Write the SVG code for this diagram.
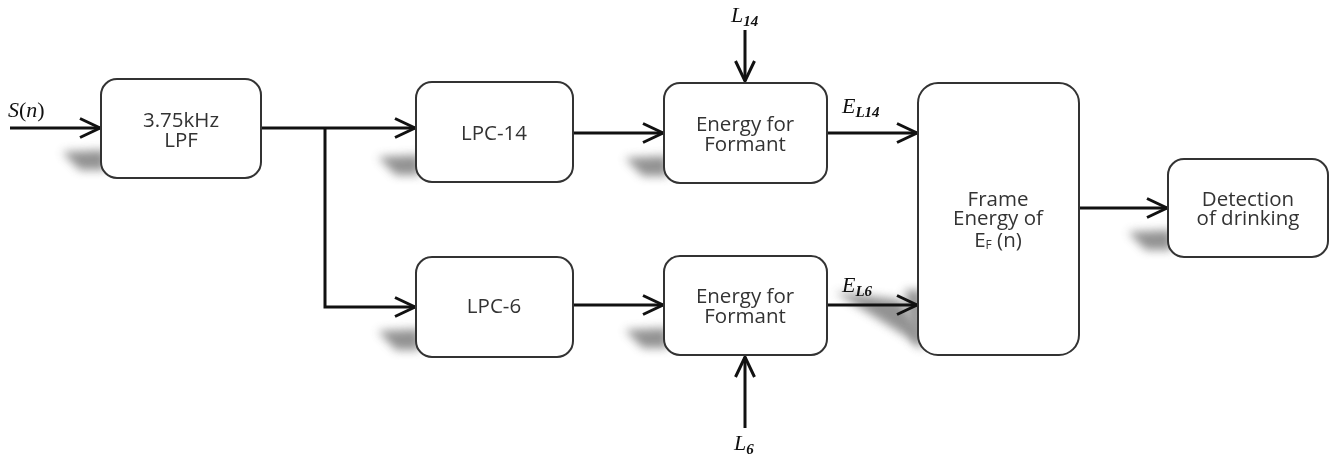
<svg xmlns="http://www.w3.org/2000/svg" width="1333" height="459" viewBox="0 0 1333 459">
<defs>
<style>
.box{fill:#fff;stroke:#333;stroke-width:2}
.lbl{font-family:"Open Sans","Noto Sans",sans-serif;font-size:20.5px;fill:#333;text-anchor:middle}
.math{font-family:"Liberation Serif","DejaVu Serif",serif;font-style:italic;font-size:22px;fill:#111}
.sub{font-size:15px;font-weight:bold}
.wire{fill:none;stroke:#111;stroke-width:3}
.shadow{fill:#777;filter:url(#blur)}
</style>
<filter id="blur" x="-50%" y="-50%" width="200%" height="200%"><feGaussianBlur stdDeviation="5"/></filter>
<marker id="arr" markerUnits="userSpaceOnUse" markerWidth="28" markerHeight="24" refX="22" refY="11" orient="auto">
<path d="M2,1.5 L22,11 L2,20.5" fill="none" stroke="#111" stroke-width="3"/>
</marker>
</defs>
<g id="shadows" opacity="0.8">
<polygon class="shadow" points="62,152 106,150 106,170 80,170"/>
<polygon class="shadow" points="378,157 420,155 420,175 396,175"/>
<polygon class="shadow" points="378,331 420,329 420,350 396,350"/>
<polygon class="shadow" points="625,158 668,156 668,176 643,176"/>
<polygon class="shadow" points="625,330 668,328 668,348 643,348"/>
<polygon class="shadow" points="835,292 900,300 920,330 920,345 880,320"/>
<polygon class="shadow" points="905,290 922,290 922,350 912,340"/>
<polygon class="shadow" points="1128,232 1172,230 1172,250 1146,250"/>
</g>
<g id="connectors">
<line class="wire" x1="10" y1="128" x2="100" y2="128" marker-end="url(#arr)"/>
<line class="wire" x1="261" y1="128" x2="415" y2="128" marker-end="url(#arr)"/>
<polyline class="wire" points="325,128 325,307 415,307" marker-end="url(#arr)"/>
<line class="wire" x1="573" y1="133" x2="663" y2="133" marker-end="url(#arr)"/>
<line class="wire" x1="573" y1="305" x2="663" y2="305" marker-end="url(#arr)"/>
<line class="wire" x1="745" y1="30" x2="745" y2="81" marker-end="url(#arr)"/>
<line class="wire" x1="745" y1="428" x2="745" y2="357" marker-end="url(#arr)"/>
<line class="wire" x1="827" y1="133" x2="917" y2="133" marker-end="url(#arr)"/>
<line class="wire" x1="827" y1="305" x2="917" y2="305" marker-end="url(#arr)"/>
<line class="wire" x1="1079" y1="208" x2="1167" y2="208" marker-end="url(#arr)"/>
</g>
<g id="labels">
<text class="math" x="8" y="117">S<tspan font-style="normal">(</tspan>n<tspan font-style="normal">)</tspan></text>
<text class="math" x="731" y="22">L<tspan class="sub" dy="4">14</tspan></text>
<text class="math" x="734" y="450">L<tspan class="sub" dy="4">6</tspan></text>
<text class="math" x="842" y="113">E<tspan class="sub" dy="4">L14</tspan></text>
<text class="math" x="842" y="292">E<tspan class="sub" dy="4">L6</tspan></text>
</g>
<g id="lpf">
<rect class="box" x="101" y="79" width="160" height="99" rx="16"/>
<text class="lbl" x="181" y="127">3.75kHz</text>
<text class="lbl" x="181" y="147">LPF</text>
</g>
<g id="lpc14">
<rect class="box" x="416" y="82" width="157" height="100" rx="16"/>
<text class="lbl" x="494" y="140">LPC-14</text>
</g>
<g id="lpc6">
<rect class="box" x="416" y="257" width="157" height="100" rx="16"/>
<text class="lbl" x="494" y="313">LPC-6</text>
</g>
<g id="energy14">
<rect class="box" x="664" y="83" width="163" height="100" rx="16"/>
<text class="lbl" x="745" y="131">Energy for</text>
<text class="lbl" x="745" y="151">Formant</text>
</g>
<g id="energy6">
<rect class="box" x="664" y="256" width="163" height="99" rx="16"/>
<text class="lbl" x="745" y="303">Energy for</text>
<text class="lbl" x="745" y="323">Formant</text>
</g>
<g id="frame">
<rect class="box" x="918" y="83" width="161" height="272" rx="20"/>
<text class="lbl" x="998" y="206">Frame</text>
<text class="lbl" x="998" y="225">Energy of</text>
<text class="lbl" x="998" y="247">E<tspan font-size="12" dy="2">F</tspan><tspan dy="-2"> (n)</tspan></text>
</g>
<g id="detection">
<rect class="box" x="1168" y="159" width="160" height="98" rx="16"/>
<text class="lbl" x="1248" y="206">Detection</text>
<text class="lbl" x="1248" y="225">of drinking</text>
</g>
</svg>
